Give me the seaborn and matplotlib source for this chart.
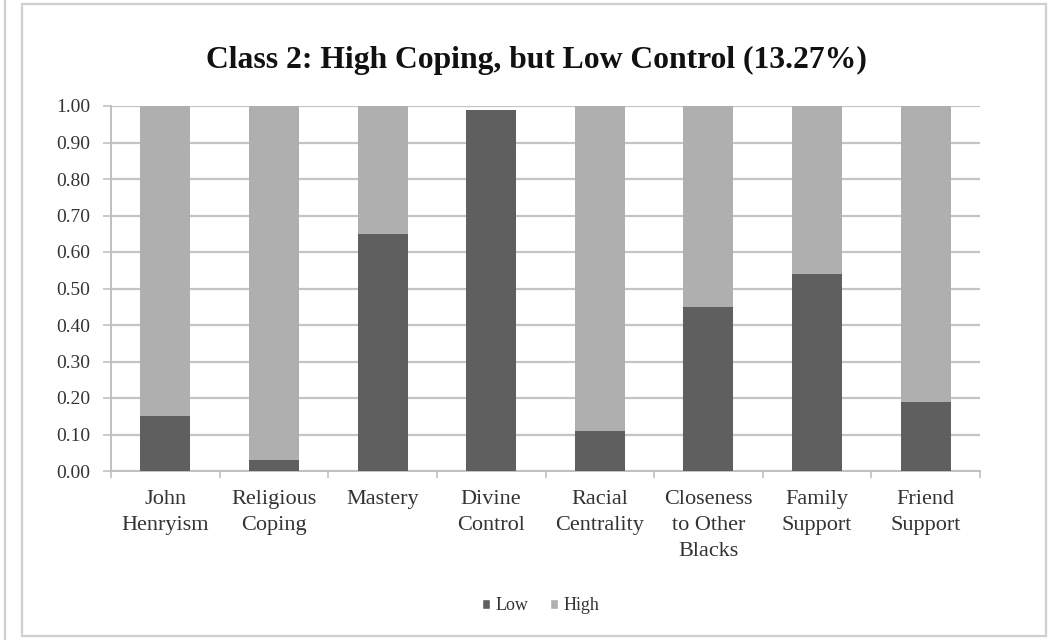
import matplotlib
matplotlib.use("Agg")
import matplotlib.pyplot as plt
from matplotlib.patches import Rectangle, Patch
from matplotlib.lines import Line2D
from matplotlib.ticker import FixedLocator
import seaborn as sns
import pandas as pd

# Class 2 probability of low vs. high response on each coping indicator
categories = ["John\nHenryism", "Religious\nCoping", "Mastery", "Divine\nControl",
              "Racial\nCentrality", "Closeness\nto Other\nBlacks", "Family\nSupport", "Friend\nSupport"]
low = [0.15, 0.03, 0.65, 0.99, 0.11, 0.45, 0.54, 0.19]
high = [0.85, 0.97, 0.35, 0.00, 0.89, 0.55, 0.46, 0.81]
title = "Class 2: High Coping, but Low Control (13.27%)"
yticks = [0.0, 0.1, 0.2, 0.3, 0.4, 0.5, 0.6, 0.7, 0.8, 0.9, 1.0]

LOW_COLOR = "#5f5f5f"
HIGH_COLOR = "#afafaf"
GRID_COLOR = "#c4c4c4"

sns.set_theme(style="white")
plt.rcParams["font.family"] = ["Liberation Serif", "DejaVu Serif"]

df = pd.DataFrame({"item": categories, "low": low, "high": high})
df["total"] = df["low"] + df["high"]

W, H = 1049, 640
fig = plt.figure(figsize=(W / 100, H / 100), dpi=100)
fig.patch.set_facecolor("white")

# frame around the chart and the edge of the neighbouring panel
fig.add_artist(Rectangle((22 / W, 4 / H), (1046 - 22) / W, (636 - 4) / H,
                         transform=fig.transFigure, fill=False,
                         edgecolor="#cfcfcf", linewidth=1.6))
fig.add_artist(Line2D([5 / W, 5 / W], [0, 1], transform=fig.transFigure,
                      color="#cfcfcf", linewidth=1.6))

ax = fig.add_axes([111 / W, 1 - 471 / H, (980 - 111) / W, (471 - 106) / H])

sns.barplot(data=df, x="item", y="total", order=categories, color=HIGH_COLOR,
            width=0.46, saturation=1, linewidth=0, ax=ax, zorder=3)
sns.barplot(data=df, x="item", y="low", order=categories, color=LOW_COLOR,
            width=0.46, saturation=1, linewidth=0, ax=ax, zorder=4)

ax.set_xlim(-0.5, len(categories) - 0.5)
ax.set_ylim(0, 1.0)
ax.yaxis.set_major_locator(FixedLocator(yticks))
ax.set_yticklabels([f"{v:.2f}" for v in yticks], fontsize=14, color="#333333")
ax.grid(axis="y", color=GRID_COLOR, linewidth=1.6, zorder=0)
ax.grid(axis="x", visible=False)
ax.set_axisbelow(True)

ax.set_xticks(range(len(categories)))
ax.set_xticklabels(categories, fontsize=16, color="#333333", linespacing=1.5,
                   multialignment="center")
ax.xaxis.set_minor_locator(FixedLocator([i - 0.5 for i in range(len(categories) + 1)]))
ax.tick_params(axis="x", which="major", length=0, pad=14)
ax.tick_params(axis="x", which="minor", length=5, width=1.2, color="#c0c0c0", direction="out", bottom=True)
ax.tick_params(axis="y", which="major", length=6, width=1.2, color="#c0c0c0", direction="out", left=True, pad=9)

ax.set_xlabel("")
ax.set_ylabel("")
for side in ["top", "right"]:
    ax.spines[side].set_visible(False)
for side in ["left", "bottom"]:
    ax.spines[side].set_color("#c0c0c0")
    ax.spines[side].set_linewidth(1.4)

fig.text(536 / W, 1 - 60 / H, title, ha="center", va="center",
         fontsize=22.8, fontweight="bold", color="#111111")

handles = [Patch(facecolor=LOW_COLOR, label="Low"), Patch(facecolor=HIGH_COLOR, label="High")]
fig.legend(handles=handles, loc="center", bbox_to_anchor=(541 / W, 1 - 606 / H), ncol=2,
           frameon=False, fontsize=13, handlelength=0.45, handleheight=0.45,
           handletextpad=0.3, columnspacing=1.2, labelcolor="#333333")

fig.savefig("out.png", dpi=100, facecolor="white")
